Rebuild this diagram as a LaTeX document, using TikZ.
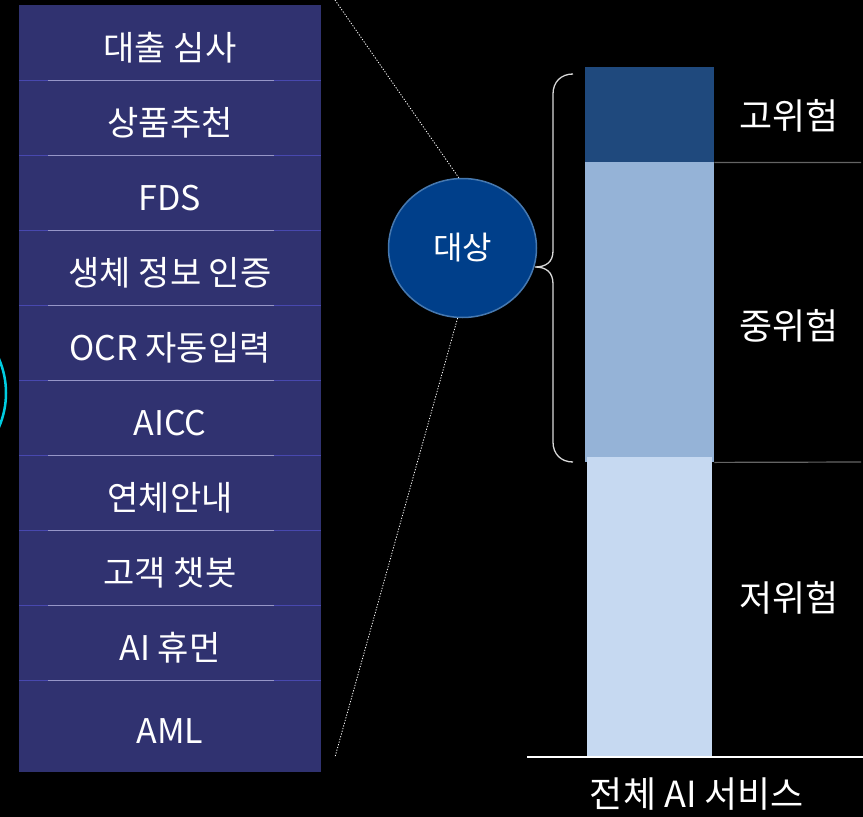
\documentclass[tikz,border=0pt]{standalone}
\usepackage{fontspec}
\setmainfont{Noto Sans CJK KR}
\usetikzlibrary{shapes.geometric}
\definecolor{panelc}{RGB}{48,50,112}
\definecolor{sepblue}{RGB}{72,72,175}
\definecolor{seplight}{RGB}{150,150,200}
\definecolor{circfill}{RGB}{0,63,138}
\definecolor{circline}{RGB}{70,120,175}
\definecolor{barA}{RGB}{31,73,125}
\definecolor{barB}{RGB}{149,179,215}
\definecolor{barC}{RGB}{198,217,241}
\definecolor{grayline}{RGB}{100,100,100}
\definecolor{cyanc}{RGB}{0,205,225}
\begin{document}
\begin{tikzpicture}[x=1pt,y=-1pt,
  rowtext/.style={text=white, font=\fontsize{34}{34}\selectfont, inner sep=0pt},
  lbl/.style={text=white, font=\fontsize{36}{36}\selectfont, inner sep=0pt},
  barbox/.style={draw=none, inner sep=0pt, anchor=north west},
  dotline/.style={white, line width=0.8pt, dash pattern=on 1.2pt off 1.6pt},
  sepb/.style={sepblue, line width=1pt},
  sepl/.style={seplight, line width=1.2pt}]
\fill[black] (0,0) rectangle (863,817);
\useasboundingbox (0,0) rectangle (863,817);
% cyan arc at left edge
\begin{scope}
\clip (0,0) rectangle (863,817);
\draw[cyanc, line width=2.5pt] (-80,393) circle (86);
\end{scope}
% left panel
\node[fill=panelc, inner sep=0pt, minimum width=302pt, minimum height=767pt, anchor=north west] (panel) at (19,5) {};
\foreach \yy in {80.5,155.5,230.5,305.5,380.5,455.5,530.5,605.5,680.5}{
  \draw[sepb] (19,\yy) -- (321,\yy);
  \draw[sepl] (48,\yy) -- (274,\yy);
}
\node[rowtext] (r0) at (170,48) {대출 심사};
\node[rowtext] (r1) at (170,123) {상품추천};
\node[rowtext] (r2) at (170,198) {FDS};
\node[rowtext] (r3) at (170,273) {생체 정보 인증};
\node[rowtext] (r4) at (170,348) {OCR 자동입력};
\node[rowtext] (r5) at (170,423) {AICC};
\node[rowtext] (r6) at (170,498) {연체안내};
\node[rowtext] (r7) at (170,573) {고객 챗봇};
\node[rowtext] (r8) at (170,648) {AI 휴먼};
\node[rowtext] (r9) at (170,731) {AML};
% target circle
\node[ellipse, fill=circfill, draw=circline, line width=1.5pt, minimum width=148pt, minimum height=139pt, inner sep=0pt,
  text=white, font=\fontsize{32}{32}\selectfont] (tgt) at (462.5,248) {대상};
\coordinate (d1) at (335,0);
\coordinate (d2) at (335,757);
\draw[dotline] (d1) -- (tgt.93);
\draw[dotline] (tgt.266) -- (d2);
% bars
\node[barbox, fill=barA, minimum width=129pt, minimum height=95pt] (bar1) at (585,67) {};
\node[barbox, fill=barB, minimum width=129pt, minimum height=300pt] (bar2) at (585,162) {};
\node[barbox, fill=barC, minimum width=125pt, minimum height=300pt] (bar3) at (587,457) {};
\coordinate (g1) at (861,162.5);
\coordinate (g2) at (861,462);
\draw[grayline, line width=1.2pt] (bar1.south east) -- (g1);
\draw[grayline, line width=1.2pt] (bar2.south east) -- (g2);
% brace
\draw[white!85!black, line width=1.3pt]
  (573,74) .. controls (561,74) and (553,82) .. (553,94) -- (553,251)
  .. controls (553,262) and (546,267) .. (535,267)
  .. controls (546,267) and (553,272) .. (553,284) -- (553,442)
  .. controls (553,454) and (561,462) .. (573,462);
% axis
\coordinate (ax1) at (527,757);
\coordinate (ax2) at (863,757);
\draw[white, line width=1.5pt] (ax1) -- (ax2);
% labels
\node[lbl] (hi) at (789,116) {고위험};
\node[lbl] (mid) at (789,326) {중위험};
\node[lbl] (lo) at (789,598) {저위험};
\node[lbl] (all) at (697,794) {전체 AI 서비스};
\end{tikzpicture}
\end{document}
